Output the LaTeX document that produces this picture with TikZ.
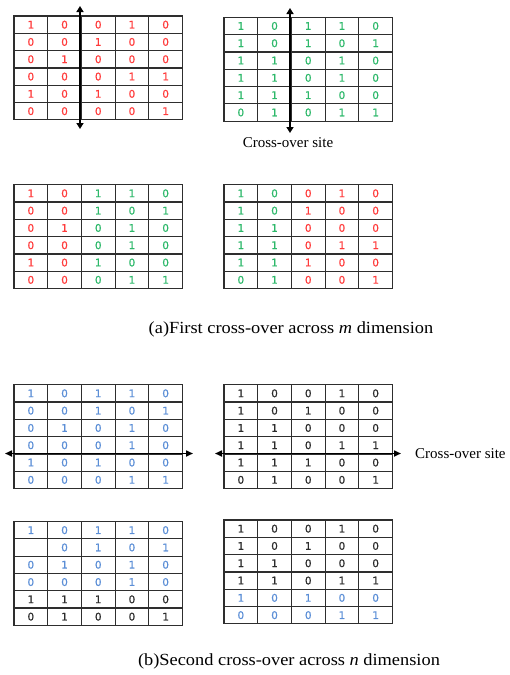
\documentclass[tikz,border=0pt]{standalone}
\usepackage{fontspec}
\setmainfont{Liberation Serif}
\newfontfamily\digitfont[FakeBold=0.8]{DejaVu Sans}
\newfontfamily\capfont[FakeStretch=1.08]{Liberation Serif}
\usetikzlibrary{arrows.meta}
\definecolor{cr}{HTML}{FF3B3B}
\definecolor{cg}{HTML}{2DB86A}
\definecolor{cb}{HTML}{5B8ED6}
\definecolor{ck}{HTML}{2B2B2B}
\definecolor{gl}{HTML}{2E2E2E}
\tikzset{
  cell/.style={draw=gl, line width=1.2pt, minimum width=33.7pt, minimum height=17.3pt,
    inner sep=0pt, font=\digitfont\fontsize{10.5}{10.5}\selectfont},
  sitelabel/.style={font=\fontsize{15}{15}\selectfont, inner sep=0pt},
  captext/.style={font=\capfont\fontsize{17}{17}\selectfont, inner sep=0pt},
  vcut/.style={line width=2pt, {Triangle[length=6pt,width=7pt]}-{Triangle[length=6pt,width=7pt]}},
  hcut/.style={line width=1.6pt, {Triangle[length=7pt,width=6pt]}-{Triangle[length=7pt,width=6pt]}}
}
\newcommand\cellgrid[4]{%
  \foreach \rowlist [count=\r] in {#4} {
    \foreach \cc/\vv [count=\c] in \rowlist {
      \node[cell, text=\cc] (#1-\r-\c) at ({#2+(\c-0.5)*33.7},{#3+(\r-0.5)*17.3}) {\vv};
    }
  }%
}
\begin{document}
\begin{tikzpicture}[x=1pt,y=-1pt]
\useasboundingbox (0,0) rectangle (509,675);
% (a) parents
\cellgrid{A}{14}{16}{
 {cr/1,cr/0,cr/0,cr/1,cr/0},
 {cr/0,cr/0,cr/1,cr/0,cr/0},
 {cr/0,cr/1,cr/0,cr/0,cr/0},
 {cr/0,cr/0,cr/0,cr/1,cr/1},
 {cr/1,cr/0,cr/1,cr/0,cr/0},
 {cr/0,cr/0,cr/0,cr/0,cr/1}}
\cellgrid{B}{224}{17.3}{
 {cg/1,cg/0,cg/1,cg/1,cg/0},
 {cg/1,cg/0,cg/1,cg/0,cg/1},
 {cg/1,cg/1,cg/0,cg/1,cg/0},
 {cg/1,cg/1,cg/0,cg/1,cg/0},
 {cg/1,cg/1,cg/1,cg/0,cg/0},
 {cg/0,cg/1,cg/0,cg/1,cg/1}}
% (a) offspring
\cellgrid{C}{14}{184.7}{
 {cr/1,cr/0,cg/1,cg/1,cg/0},
 {cr/0,cr/0,cg/1,cg/0,cg/1},
 {cr/0,cr/1,cg/0,cg/1,cg/0},
 {cr/0,cr/0,cg/0,cg/1,cg/0},
 {cr/1,cr/0,cg/1,cg/0,cg/0},
 {cr/0,cr/0,cg/0,cg/1,cg/1}}
\cellgrid{D}{224}{184.7}{
 {cg/1,cg/0,cr/0,cr/1,cr/0},
 {cg/1,cg/0,cr/1,cr/0,cr/0},
 {cg/1,cg/1,cr/0,cr/0,cr/0},
 {cg/1,cg/1,cr/0,cr/1,cr/1},
 {cg/1,cg/1,cr/1,cr/0,cr/0},
 {cg/0,cg/1,cr/0,cr/0,cr/1}}
% (b) parents
\cellgrid{E}{14}{384.7}{
 {cb/1,cb/0,cb/1,cb/1,cb/0},
 {cb/0,cb/0,cb/1,cb/0,cb/1},
 {cb/0,cb/1,cb/0,cb/1,cb/0},
 {cb/0,cb/0,cb/0,cb/1,cb/0},
 {cb/1,cb/0,cb/1,cb/0,cb/0},
 {cb/0,cb/0,cb/0,cb/1,cb/1}}
\cellgrid{F}{224}{384.7}{
 {ck/1,ck/0,ck/0,ck/1,ck/0},
 {ck/1,ck/0,ck/1,ck/0,ck/0},
 {ck/1,ck/1,ck/0,ck/0,ck/0},
 {ck/1,ck/1,ck/0,ck/1,ck/1},
 {ck/1,ck/1,ck/1,ck/0,ck/0},
 {ck/0,ck/1,ck/0,ck/0,ck/1}}
% (b) offspring
\cellgrid{G}{14}{521.5}{
 {cb/1,cb/0,cb/1,cb/1,cb/0},
 {cb/\phantom{0},cb/0,cb/1,cb/0,cb/1},
 {cb/0,cb/1,cb/0,cb/1,cb/0},
 {cb/0,cb/0,cb/0,cb/1,cb/0},
 {ck/1,ck/1,ck/1,ck/0,ck/0},
 {ck/0,ck/1,ck/0,ck/0,ck/1}}
\cellgrid{H}{224}{520}{
 {ck/1,ck/0,ck/0,ck/1,ck/0},
 {ck/1,ck/0,ck/1,ck/0,ck/0},
 {ck/1,ck/1,ck/0,ck/0,ck/0},
 {ck/1,ck/1,ck/0,ck/1,ck/1},
 {cb/1,cb/0,cb/1,cb/0,cb/0},
 {cb/0,cb/0,cb/0,cb/1,cb/1}}
% cross-over cuts
\coordinate (a1t) at (80,6);   \coordinate (a1b) at (80,129);
\coordinate (a2t) at (290,8);  \coordinate (a2b) at (290,133);
\coordinate (b1l) at (5,453.5);   \coordinate (b1r) at (193,453.5);
\coordinate (b2l) at (215,453.5); \coordinate (b2r) at (401,453.5);
\draw[vcut] (a1t) -- (a1b);
\draw[vcut] (a2t) -- (a2b);
\draw[hcut] (b1l) -- (b1r);
\draw[hcut] (b2l) -- (b2r);
% labels
\node[sitelabel] (siteA) at (288,143) {Cross-over site};
\node[sitelabel, anchor=west] (siteB) at (415,453.5) {Cross-over site};
\node[captext] (capA) at (291,329) {(a)First cross-over across \textit{m} dimension};
\node[captext] (capB) at (289,661) {(b)Second cross-over across \textit{n} dimension};
\end{tikzpicture}
\end{document}
